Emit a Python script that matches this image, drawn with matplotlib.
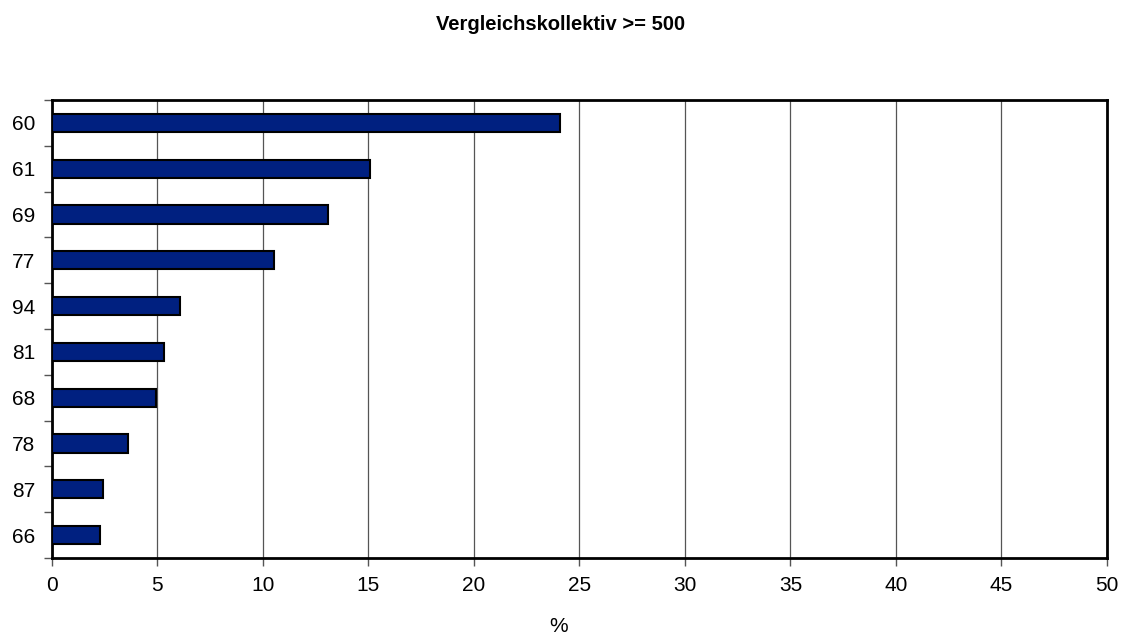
import numpy as np
import matplotlib.pyplot as plt

plt.rcParams["font.family"] = ["Liberation Sans", "DejaVu Sans"]

# ── Daten ──────────────────────────────────────────────────────────────────
categories = ["60", "61", "69", "77", "94", "81", "68", "78", "87", "66"]
values = [24.1, 15.05, 13.1, 10.5, 6.07, 5.3, 4.92, 3.6, 2.42, 2.27]
x_ticks = list(range(0, 55, 5))

fig = plt.figure(figsize=(11.22, 6.37), dpi=100)
ax = fig.add_axes([0.0463, 0.124, 0.9403, 0.719])

pos = np.arange(len(categories))
ax.barh(pos, values, height=0.4, color="#002080", edgecolor="black", linewidth=1.5, zorder=3)

ax.set_xlim(0, 50)
ax.set_ylim(len(categories) - 0.5, -0.5)
ax.set_xticks(x_ticks)
ax.set_xticklabels([str(t) for t in x_ticks], fontsize=15)
ax.set_yticks(pos)
ax.set_yticklabels(categories, fontsize=15)
ax.tick_params(axis="y", which="major", length=0, pad=12)
ax.set_yticks(np.arange(-0.5, len(categories)), minor=True)
ax.tick_params(axis="y", which="minor", length=6, width=1, color="#555555")
ax.tick_params(axis="x", length=6, width=1, color="#555555", pad=7)

ax.grid(axis="x", color="#555555", linewidth=0.9, zorder=0)
for s in ax.spines.values():
    s.set_linewidth(2)
    s.set_color("black")

ax.set_xlabel("%", fontsize=15)
ax.xaxis.set_label_coords(0.48, -0.128)
fig.suptitle("Vergleichskollektiv >= 500", fontsize=14.5, fontweight="bold", y=0.977)

fig.savefig("out.png", dpi=100)
